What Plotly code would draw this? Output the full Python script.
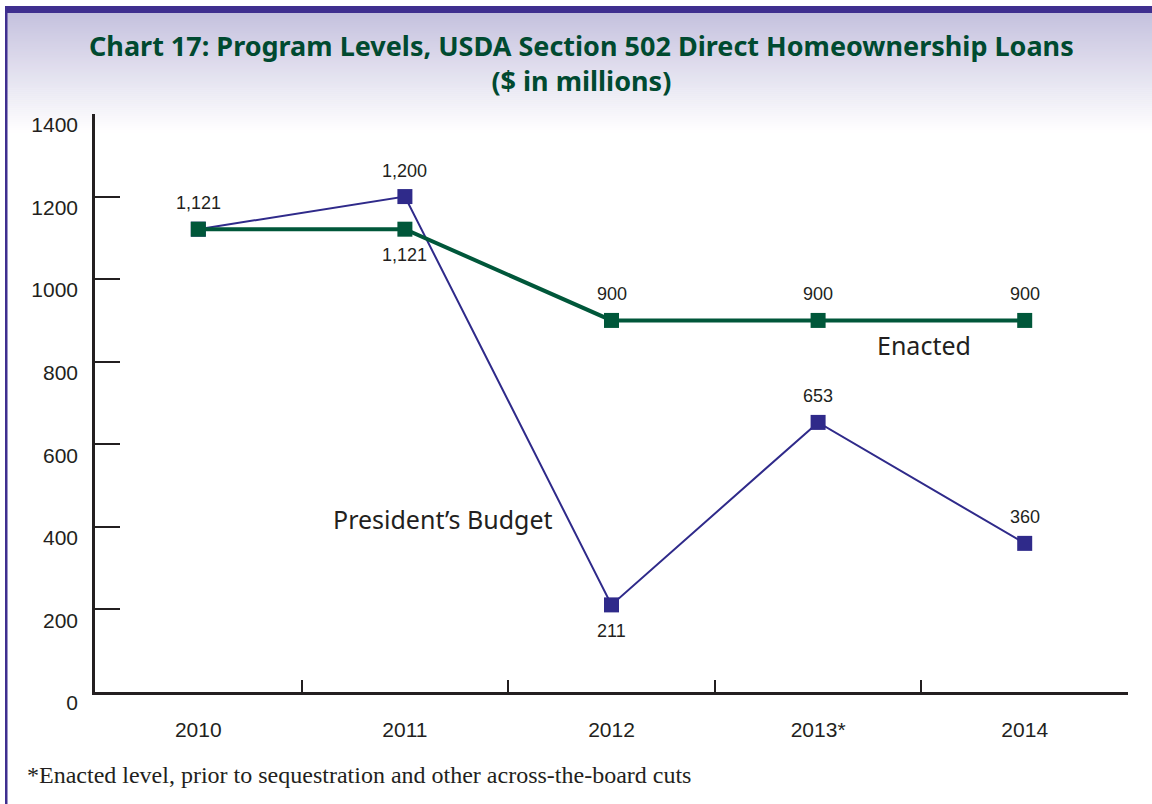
import plotly.graph_objects as go

# ---- data ----
years = ["2010", "2011", "2012", "2013*", "2014"]
enacted = [1121, 1121, 900, 900, 900]
president = [1121, 1200, 211, 653, 360]
enacted_labels = ["1,121", "1,121", "900", "900", "900"]
enacted_label_side = [1, -1, 1, 1, 1]
president_labels = ["", "1,200", "211", "653", "360"]
president_label_side = [1, 1, -1, 1, 1]
y_ticks = [0, 200, 400, 600, 800, 1000, 1200, 1400]

# ---- geometry ----
W, H = 1152, 804
ML, MR, MT, MB = 95, 24, 114, 112
PW, PH = W - ML - MR, H - MT - MB


def px2x(px):
    return (px - ML) / PW


def py2y(py):
    return (H - MB - py) / PH


GREEN = "#00573a"
PURPLE = "#2f2a8a"
TEXT = "#231f20"

fig = go.Figure()
fig.add_trace(go.Scatter(
    x=years, y=president, mode="lines+markers", name="President's Budget",
    line=dict(color=PURPLE, width=2),
    marker=dict(symbol="square", size=15, color=PURPLE),
    hoverinfo="x+y",
))
fig.add_trace(go.Scatter(
    x=years, y=enacted, mode="lines+markers", name="Enacted",
    line=dict(color=GREEN, width=4),
    marker=dict(symbol="square", size=15, color=GREEN),
    hoverinfo="x+y",
))

annotations = []
for ys, labs, sides in [(enacted, enacted_labels, enacted_label_side),
                        (president, president_labels, president_label_side)]:
    for i, (y, lab, s) in enumerate(zip(ys, labs, sides)):
        if not lab:
            continue
        annotations.append(dict(
            x=i, y=y, text=lab, showarrow=False, yshift=26 * s,
            font=dict(family="Liberation Sans, Arial", size=18, color=TEXT),
            xanchor="center", yanchor="middle",
        ))

annotations.append(dict(
    xref="paper", yref="paper", x=px2x(924), y=py2y(345), text="Enacted",
    showarrow=False, xanchor="center", yanchor="middle",
    font=dict(family="Noto Sans", size=25, color=TEXT),
))
annotations.append(dict(
    xref="paper", yref="paper", x=px2x(443), y=py2y(519), text="President\u2019s Budget",
    showarrow=False, xanchor="center", yanchor="middle",
    font=dict(family="Noto Sans", size=25, color=TEXT),
))
annotations.append(dict(
    xref="paper", yref="paper", x=px2x(25), y=py2y(775),
    text="*Enacted level, prior to sequestration and other across-the-board cuts",
    showarrow=False, xanchor="left", yanchor="middle",
    font=dict(family="Liberation Serif", size=24, color=TEXT),
))
annotations.append(dict(
    xref="paper", yref="paper", x=px2x(581), y=py2y(63),
    text="<b>Chart 17: Program Levels, USDA Section 502 Direct Homeownership Loans<br>($ in millions)</b>",
    showarrow=False, xanchor="center", yanchor="middle", align="center",
    font=dict(family="Noto Sans", size=27, color="#004a30"),
))

# ---- background gradient and border ----
shapes = []
top_py, bot_py = 13, 132
n = 60
c0 = (197, 193, 222)
for i in range(n):
    a = top_py + (bot_py - top_py) * i / n
    b = top_py + (bot_py - top_py) * (i + 1) / n
    t = (i + 0.5) / n
    col = tuple(round(c0[k] + (255 - c0[k]) * t) for k in range(3))
    shapes.append(dict(
        type="rect", xref="paper", yref="paper",
        x0=px2x(7), x1=px2x(W + 5), y0=py2y(b + 0.5), y1=py2y(a),
        fillcolor="rgb(%d,%d,%d)" % col, line=dict(width=0), layer="below",
    ))
shapes.append(dict(
    type="rect", xref="paper", yref="paper",
    x0=px2x(5), x1=px2x(W + 5), y0=py2y(13), y1=py2y(6),
    fillcolor="#3f2f8f", line=dict(width=0), layer="below",
))
shapes.append(dict(
    type="rect", xref="paper", yref="paper",
    x0=px2x(5), x1=px2x(7.5), y0=py2y(H + 5), y1=py2y(6),
    fillcolor="#3f2f8f", line=dict(width=0), layer="below",
))

fig.update_layout(
    width=W, height=H,
    margin=dict(l=ML, r=MR, t=MT, b=MB),
    paper_bgcolor="white", plot_bgcolor="rgba(0,0,0,0)",
    showlegend=False,
    xaxis=dict(
        type="category", range=[-0.5, 4.5],
        showline=True, linecolor=TEXT, linewidth=2.5,
        ticks="inside", tickson="boundaries", ticklen=12, tickwidth=2, tickcolor=TEXT,
        showgrid=False, zeroline=False,
        tickfont=dict(family="Liberation Sans, Arial", size=21, color=TEXT),
        ticklabelstandoff=17,
    ),
    yaxis=dict(
        range=[0, 1400], tickvals=y_ticks,
        showline=True, linecolor=TEXT, linewidth=2.5,
        ticks="inside", ticklen=25, tickwidth=2, tickcolor=TEXT,
        showgrid=False, zeroline=False,
        tickfont=dict(family="Liberation Sans, Arial", size=21, color=TEXT),
        ticklabelstandoff=10, ticklabelshift=11,
    ),
    annotations=annotations,
    shapes=shapes,
)

fig.write_html("out.html", config={"displayModeBar": False},
               post_script="document.body.style.margin='0';")
